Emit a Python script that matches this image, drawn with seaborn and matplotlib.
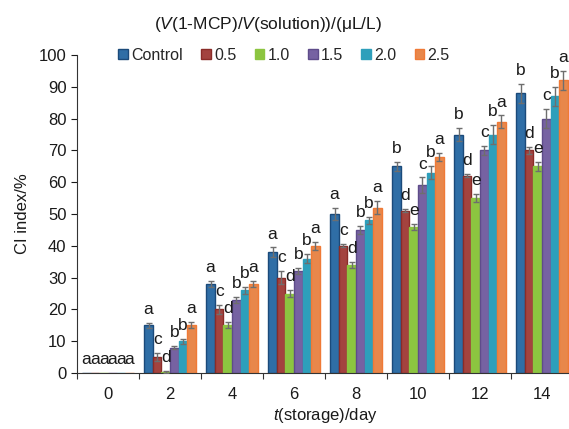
import numpy as np
import pandas as pd
import matplotlib
matplotlib.use("Agg")
import matplotlib.pyplot as plt
import seaborn as sns
from matplotlib.patches import Patch

days = ["0", "2", "4", "6", "8", "10", "12", "14"]
groups = ["Control", "0.5", "1.0", "1.5", "2.0", "2.5"]

control = [0, 15, 28, 38, 50, 65, 75, 88]
c05 = [0, 5, 20, 30, 40, 51, 62, 70]
c10 = [0, 0.3, 15, 25, 34, 46, 55, 65]
c15 = [0, 8, 23, 32, 45, 59, 70, 80]
c20 = [0, 10, 26, 36, 48, 63, 75, 87]
c25 = [0, 15, 28, 40, 52, 68, 79, 92]

err_control = [0, 0.8, 1.0, 1.5, 2.0, 1.5, 2.0, 3.0]
err_c05 = [0, 1.2, 1.5, 2.0, 0.5, 0.5, 0.5, 1.0]
err_c10 = [0, 0.3, 1.0, 1.0, 1.0, 1.0, 1.2, 1.5]
err_c15 = [0, 0.6, 1.0, 1.0, 1.2, 2.5, 1.5, 3.0]
err_c20 = [0, 0.8, 1.2, 1.5, 1.0, 2.0, 3.0, 3.0]
err_c25 = [0, 1.0, 1.0, 1.2, 2.0, 1.2, 2.0, 3.0]

letters_control = ["a", "a", "a", "a", "a", "b", "b", "b"]
letters_c05 = ["a", "c", "c", "c", "c", "d", "d", "d"]
letters_c10 = ["a", "d", "d", "d", "d", "e", "e", "e"]
letters_c15 = ["a", "b", "b", "b", "b", "c", "c", "c"]
letters_c20 = ["a", "b", "b", "b", "b", "b", "b", "b"]
letters_c25 = ["a", "a", "a", "a", "a", "a", "a", "a"]

values = [control, c05, c10, c15, c20, c25]
errors = [err_control, err_c05, err_c10, err_c15, err_c20, err_c25]
letters = [letters_control, letters_c05, letters_c10, letters_c15, letters_c20, letters_c25]

colors = ["#2F6EA6", "#A3433F", "#8CC540", "#7662A2", "#2E9FBB", "#E8874B"]
edges = ["#1B4A7A", "#8A2C28", "#8CC540", "#5E4C8A", "#2E9FBB", "#F07A36"]

rows = []
for g, vals in zip(groups, values):
    for d, v in zip(days, vals):
        rows.append({"day": d, "group": g, "value": v})
df = pd.DataFrame(rows)

sns.set_style("ticks")
plt.rcParams["font.family"] = ["Liberation Sans", "DejaVu Sans"]
plt.rcParams["mathtext.fontset"] = "custom"
plt.rcParams["mathtext.it"] = "Liberation Sans:italic"
plt.rcParams["mathtext.rm"] = "Liberation Sans"

fig = plt.figure(figsize=(5.69, 4.29), dpi=100)
ax = fig.add_axes([77 / 569, 56 / 429, (573 - 77) / 569, (374 - 56) / 429])

sns.barplot(data=df, x="day", y="value", hue="group", order=days, hue_order=groups,
            palette=colors, width=0.83, errorbar=None, ax=ax, legend=False,
            saturation=1, linewidth=1.0)

bar_containers = list(ax.containers)
for ci, cont in enumerate(bar_containers):
    for bi, bar in enumerate(cont.patches):
        bar.set_edgecolor(edges[ci])
        bar.set_linewidth(1.0)
        x = bar.get_x() + bar.get_width() / 2
        v = values[ci][bi]
        e = errors[ci][bi]
        if e > 0:
            ax.errorbar(x, v, yerr=e, fmt="none", ecolor="#6E6E6E", elinewidth=1.0,
                        capsize=2.5, capthick=1.0, zorder=5)
        ax.text(x, v + e + 4.2, letters[ci][bi], ha="center", va="center",
                fontsize=12.5, color="#1A1A1A", zorder=6)

ax.set_ylim(0, 100)
ax.set_xlim(-0.5, 7.5)
ax.set_yticks(np.arange(0, 101, 10))
ax.tick_params(axis="y", labelsize=12, length=4, width=0.8, colors="#1A1A1A", direction="out")
ax.tick_params(axis="x", which="major", length=0, labelsize=12, colors="#1A1A1A", pad=10)
ax.set_xticks(np.arange(-0.5, 7.6, 1.0), minor=True)
ax.tick_params(axis="x", which="minor", length=4, width=0.8, direction="out", color="#333333")
for s in ["top", "right"]:
    ax.spines[s].set_visible(False)
for s in ["left", "bottom"]:
    ax.spines[s].set_linewidth(0.8)
    ax.spines[s].set_color("#333333")

ax.set_ylabel("CI index/%", fontsize=12, color="#1A1A1A", labelpad=6)
ax.set_xlabel("$t$(storage)/day", fontsize=12, color="#1A1A1A", labelpad=3)

handles = [Patch(facecolor=c, edgecolor=e, linewidth=1.0) for c, e in zip(colors, edges)]
fig.legend(handles, groups, loc="center", bbox_to_anchor=(284 / 569, 1 - 55 / 429),
           ncol=6, frameon=False, fontsize=11.5, handlelength=0.6, handleheight=0.6,
           handletextpad=0.2, columnspacing=1.15, borderpad=0)

fig.text(268 / 569, 1 - 25 / 429, "($V$(1-MCP)/$V$(solution))/(μL/L)", ha="center", va="center",
         fontsize=12.5, color="#1A1A1A")

fig.savefig("out.png", dpi=100)
